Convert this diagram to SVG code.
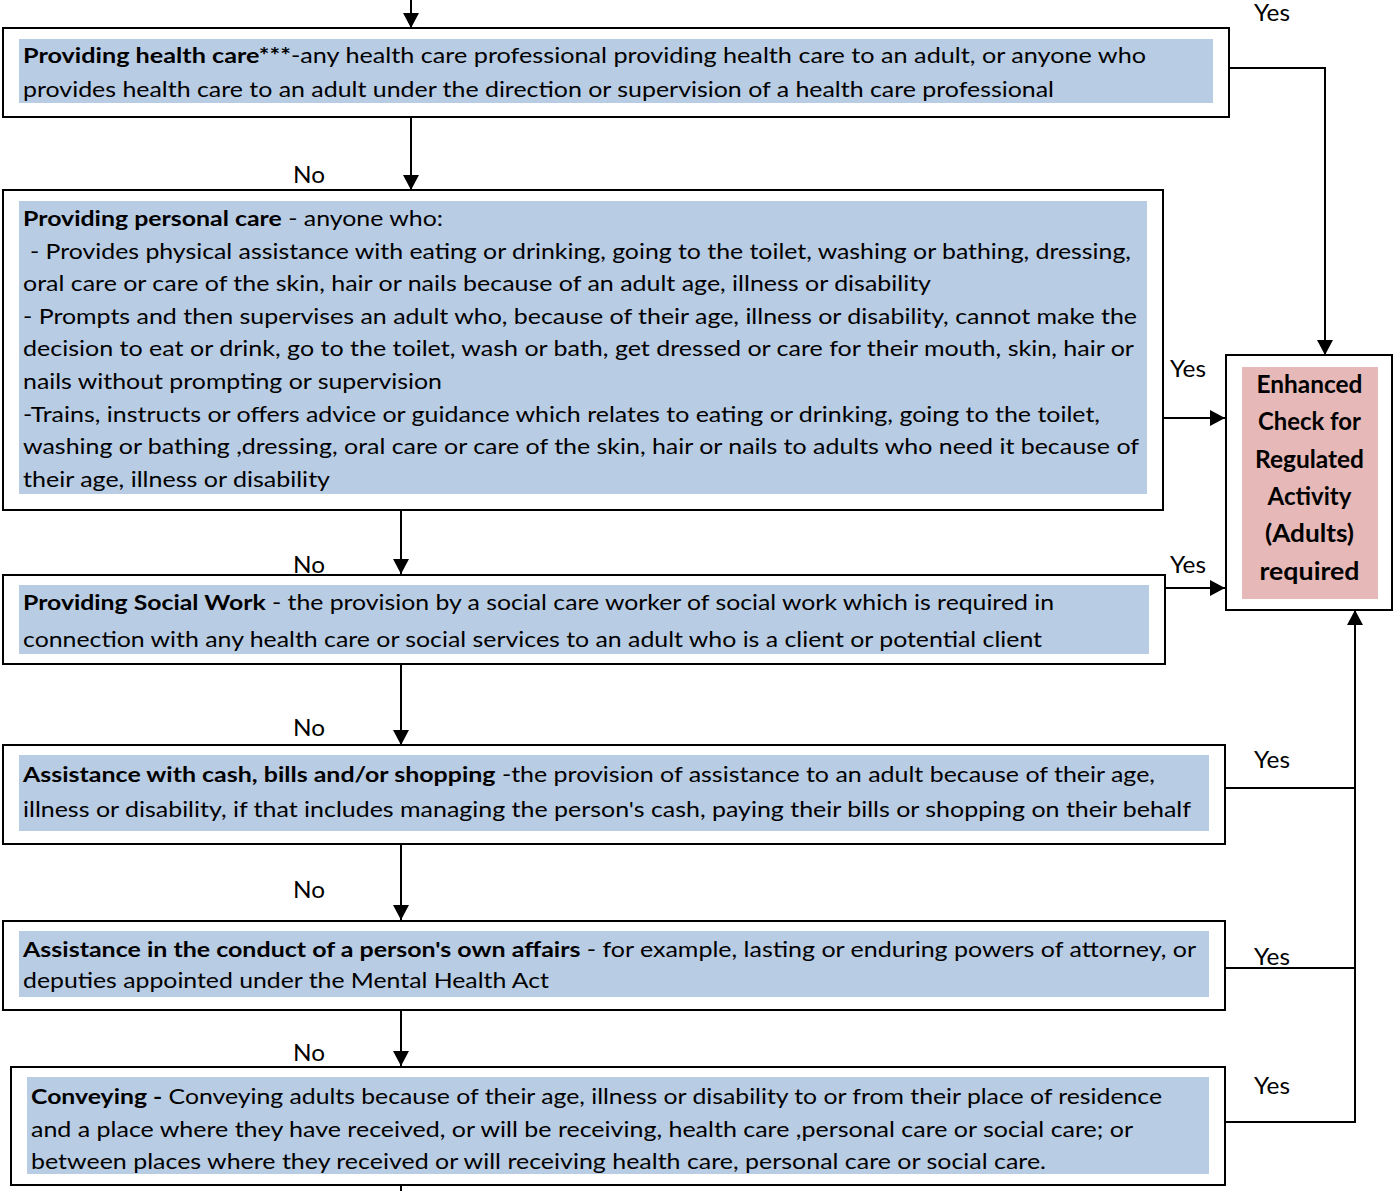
<svg xmlns="http://www.w3.org/2000/svg" width="1394" height="1191" viewBox="0 0 1394 1191">
<style>
.box{fill:#ffffff;stroke:#000;stroke-width:2}
.blue{fill:#B8CCE4}
.pink{fill:#E6B8B7}
.t{font-family:Lato,"Open Sans","Liberation Sans",sans-serif;font-size:21.5px;fill:#000}
.b{font-weight:bold}
.lbl{font-family:Lato,"Open Sans","Liberation Sans",sans-serif;font-size:23px;fill:#000}
.enh{font-family:Lato,"Open Sans","Liberation Sans",sans-serif;font-size:24px;font-weight:bold;fill:#000;text-anchor:middle}
.c{fill:none;stroke:#000;stroke-width:2}
</style>
<defs>
<marker id="ah" markerUnits="userSpaceOnUse" markerWidth="15" markerHeight="16" refX="15" refY="8" orient="auto">
<path d="M0,0 L15,8 L0,16 z" fill="#000"/>
</marker>
</defs>
<rect width="1394" height="1191" fill="#ffffff"/>

<g id="connectors">
<line class="c" x1="411" y1="0" x2="411" y2="28" marker-end="url(#ah)"/>
<line class="c" x1="411" y1="117" x2="411" y2="190" marker-end="url(#ah)"/>
<line class="c" x1="401" y1="510" x2="401" y2="574" marker-end="url(#ah)"/>
<line class="c" x1="401" y1="664" x2="401" y2="745" marker-end="url(#ah)"/>
<line class="c" x1="401" y1="844" x2="401" y2="920" marker-end="url(#ah)"/>
<line class="c" x1="401" y1="1010" x2="401" y2="1066" marker-end="url(#ah)"/>
<line class="c" x1="401" y1="1186" x2="401" y2="1191"/>
<polyline class="c" points="1229,68 1325,68 1325,355" marker-end="url(#ah)"/>
<line class="c" x1="1163" y1="418" x2="1225" y2="418" marker-end="url(#ah)"/>
<line class="c" x1="1165" y1="588" x2="1225" y2="588" marker-end="url(#ah)"/>
<line class="c" x1="1225" y1="788" x2="1355" y2="788"/>
<line class="c" x1="1225" y1="968" x2="1355" y2="968"/>
<line class="c" x1="1225" y1="1122" x2="1356" y2="1122"/>
<line class="c" x1="1355" y1="1123" x2="1355" y2="610" marker-end="url(#ah)"/>
<text class="lbl" x="293" y="183" textLength="32" lengthAdjust="spacingAndGlyphs">No</text>
<text class="lbl" x="293" y="573" textLength="32" lengthAdjust="spacingAndGlyphs">No</text>
<text class="lbl" x="293" y="736" textLength="32" lengthAdjust="spacingAndGlyphs">No</text>
<text class="lbl" x="293" y="898" textLength="32" lengthAdjust="spacingAndGlyphs">No</text>
<text class="lbl" x="293" y="1061" textLength="32" lengthAdjust="spacingAndGlyphs">No</text>
<text class="lbl" x="1254" y="21" textLength="36" lengthAdjust="spacingAndGlyphs">Yes</text>
<text class="lbl" x="1170" y="377" textLength="36" lengthAdjust="spacingAndGlyphs">Yes</text>
<text class="lbl" x="1170" y="573" textLength="36" lengthAdjust="spacingAndGlyphs">Yes</text>
<text class="lbl" x="1254" y="768" textLength="36" lengthAdjust="spacingAndGlyphs">Yes</text>
<text class="lbl" x="1254" y="965" textLength="36" lengthAdjust="spacingAndGlyphs">Yes</text>
<text class="lbl" x="1254" y="1094" textLength="36" lengthAdjust="spacingAndGlyphs">Yes</text>
</g>

<g id="health-care">
<rect class="box" x="3" y="28" width="1226" height="89"/>
<rect class="blue" x="19" y="39" width="1194" height="64"/>
<text class="t" x="23" y="63" textLength="1123" lengthAdjust="spacingAndGlyphs"><tspan class="b">Providing health care***</tspan>-any health care professional providing health care to an adult, or anyone who</text>
<text class="t" x="23" y="97" textLength="1031" lengthAdjust="spacingAndGlyphs">provides health care to an adult under the direction or supervision of a health care professional</text>
</g>

<g id="personal-care">
<rect class="box" x="3" y="190" width="1160" height="320"/>
<rect class="blue" x="19" y="201" width="1128" height="293"/>
<text class="t" x="23" y="226" textLength="420" lengthAdjust="spacingAndGlyphs"><tspan class="b">Providing personal care</tspan> - anyone who:</text>
<text class="t" x="30" y="258.6" textLength="1101" lengthAdjust="spacingAndGlyphs">- Provides physical assistance with eating or drinking, going to the toilet, washing or bathing, dressing,</text>
<text class="t" x="23" y="291.2" textLength="908" lengthAdjust="spacingAndGlyphs">oral care or care of the skin, hair or nails because of an adult age, illness or disability</text>
<text class="t" x="23" y="323.8" textLength="1114" lengthAdjust="spacingAndGlyphs">- Prompts and then supervises an adult who, because of their age, illness or disability, cannot make the</text>
<text class="t" x="23" y="356.4" textLength="1111" lengthAdjust="spacingAndGlyphs">decision to eat or drink, go to the toilet, wash or bath, get dressed or care for their mouth, skin, hair or</text>
<text class="t" x="23" y="389" textLength="419" lengthAdjust="spacingAndGlyphs">nails without prompting or supervision</text>
<text class="t" x="23" y="421.6" textLength="1077" lengthAdjust="spacingAndGlyphs">-Trains, instructs or offers advice or guidance which relates to eating or drinking, going to the toilet,</text>
<text class="t" x="23" y="454.2" textLength="1116" lengthAdjust="spacingAndGlyphs">washing or bathing ,dressing, oral care or care of the skin, hair or nails to adults who need it because of</text>
<text class="t" x="23" y="486.8" textLength="307" lengthAdjust="spacingAndGlyphs">their age, illness or disability</text>
</g>

<g id="social-work">
<rect class="box" x="3" y="575" width="1162" height="89"/>
<rect class="blue" x="19" y="585" width="1130" height="69"/>
<text class="t" x="23" y="610" textLength="1031" lengthAdjust="spacingAndGlyphs"><tspan class="b">Providing Social Work</tspan> - the provision by a social care worker of social work which is required in</text>
<text class="t" x="23" y="647" textLength="1019" lengthAdjust="spacingAndGlyphs">connection with any health care or social services to an adult who is a client or potential client</text>
</g>

<g id="cash-bills">
<rect class="box" x="3" y="745" width="1222" height="99"/>
<rect class="blue" x="19" y="755" width="1190" height="76"/>
<text class="t" x="23" y="782" textLength="1132" lengthAdjust="spacingAndGlyphs"><tspan class="b">Assistance with cash, bills and/or shopping</tspan> -the provision of assistance to an adult because of their age,</text>
<text class="t" x="23" y="817" textLength="1168" lengthAdjust="spacingAndGlyphs">illness or disability, if that includes managing the person's cash, paying their bills or shopping on their behalf</text>
</g>

<g id="own-affairs">
<rect class="box" x="3" y="921" width="1222" height="89"/>
<rect class="blue" x="19" y="931" width="1190" height="66"/>
<text class="t" x="23" y="957" textLength="1173" lengthAdjust="spacingAndGlyphs"><tspan class="b">Assistance in the conduct of a person's own affairs</tspan> - for example, lasting or enduring powers of attorney, or</text>
<text class="t" x="23" y="988" textLength="526" lengthAdjust="spacingAndGlyphs">deputies appointed under the Mental Health Act</text>
</g>

<g id="conveying">
<rect class="box" x="11" y="1067" width="1214" height="118"/>
<rect class="blue" x="27" y="1077" width="1182" height="97"/>
<text class="t" x="31" y="1104" textLength="1131" lengthAdjust="spacingAndGlyphs"><tspan class="b">Conveying -</tspan> Conveying adults because of their age, illness or disability to or from their place of residence</text>
<text class="t" x="31" y="1137" textLength="1102" lengthAdjust="spacingAndGlyphs">and a place where they have received, or will be receiving, health care ,personal care or social care; or</text>
<text class="t" x="31" y="1169" textLength="1015" lengthAdjust="spacingAndGlyphs">between places where they received or will receiving health care, personal care or social care.</text>
</g>

<g id="enhanced-check">
<rect class="box" x="1226" y="355" width="166" height="255"/>
<rect class="pink" x="1242" y="367" width="136" height="232"/>
<text class="enh" x="1309.5" y="393" textLength="106" lengthAdjust="spacingAndGlyphs">Enhanced</text>
<text class="enh" x="1309.5" y="430" textLength="103" lengthAdjust="spacingAndGlyphs">Check for</text>
<text class="enh" x="1309.5" y="468" textLength="109" lengthAdjust="spacingAndGlyphs">Regulated</text>
<text class="enh" x="1309.5" y="505" textLength="84" lengthAdjust="spacingAndGlyphs">Activity</text>
<text class="enh" x="1309.5" y="542" textLength="89" lengthAdjust="spacingAndGlyphs">(Adults)</text>
<text class="enh" x="1309.5" y="580" textLength="100" lengthAdjust="spacingAndGlyphs">required</text>
</g>
</svg>
